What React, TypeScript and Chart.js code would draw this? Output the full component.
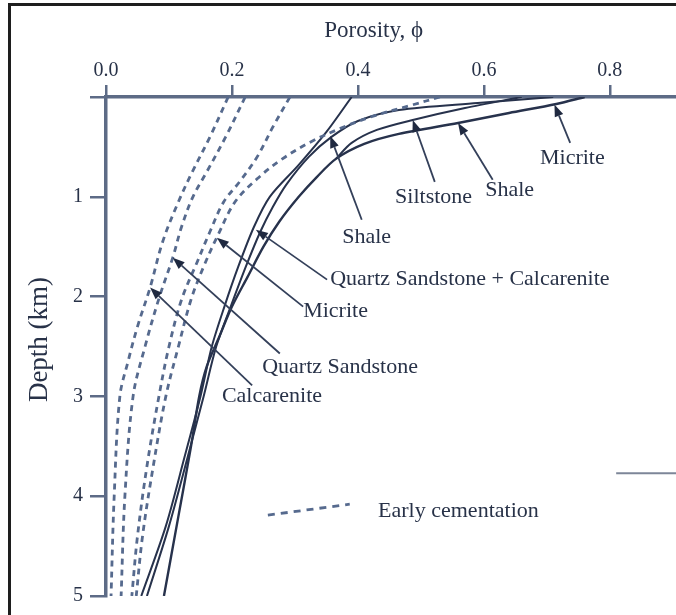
import React, { useEffect, useRef } from "react";
import { Chart, registerables } from "chart.js";
Chart.register(...registerables);

// Axis ticks
const X_TICKS = [0, 0.2, 0.4, 0.6, 0.8];
const Y_TICKS = [0, 1, 2, 3, 4, 5];
const X_MAX = 0.905;
const Y_MAX = 5;
const X_TITLE = "Porosity, \u03d5";
const Y_TITLE = "Depth (km)";
const X_TITLE_CENTER = 0.425;

// Solid compaction curves: [porosity, depth km]
const curveQsCalc = [[0.39, 0], [0.35, 0.35], [0.306, 0.68], [0.26, 1.0], [0.235, 1.3], [0.21, 1.7], [0.188, 2.1], [0.168, 2.5], [0.15, 3.0], [0.125, 3.6], [0.095, 4.3], [0.056, 5]];
const curveShaleLower = [[0.71, 0], [0.59, 0.06], [0.465, 0.13], [0.4, 0.24], [0.358, 0.4], [0.322, 0.6], [0.286, 0.88], [0.265, 1.1], [0.245, 1.35], [0.222, 1.7], [0.198, 2.1], [0.175, 2.5], [0.155, 3.0], [0.13, 3.6], [0.1, 4.3], [0.065, 5]];
const curveSiltstone = [[0.66, 0], [0.57, 0.11], [0.487, 0.23], [0.43, 0.33], [0.39, 0.46], [0.365, 0.62]];
const curveMicrite = [[0.76, 0], [0.715, 0.07], [0.64, 0.16], [0.559, 0.26], [0.465, 0.37], [0.41, 0.47], [0.365, 0.62], [0.335, 0.8], [0.306, 1.0], [0.275, 1.25], [0.25, 1.5], [0.225, 1.8], [0.2, 2.1], [0.18, 2.4], [0.16, 2.7], [0.148, 3.0], [0.135, 3.5], [0.115, 4.2], [0.092, 5]];

// Early cementation (dashed) curves
const ecCalcarenite = [[0.194, 0], [0.165, 0.4], [0.137, 0.75], [0.115, 1.05], [0.09, 1.45], [0.07, 1.91], [0.05, 2.3], [0.035, 2.65], [0.022, 3.0], [0.013, 4.0], [0.008, 5]];
const ecQuartz = [[0.221, 0], [0.19, 0.4], [0.16, 0.75], [0.138, 1.0], [0.12, 1.3], [0.106, 1.61], [0.085, 2.0], [0.062, 2.5], [0.043, 3.0], [0.03, 4.0], [0.024, 5]];
const ecMicrite = [[0.292, 0], [0.265, 0.3], [0.24, 0.6], [0.212, 0.85], [0.187, 1.05], [0.165, 1.35], [0.145, 1.65], [0.12, 2.03], [0.1, 2.5], [0.084, 3.0], [0.065, 3.7], [0.05, 4.4], [0.041, 5]];
const ecShale = [[0.53, 0], [0.486, 0.08], [0.42, 0.2], [0.37, 0.32], [0.325, 0.45], [0.28, 0.62], [0.24, 0.82], [0.205, 1.05], [0.178, 1.38], [0.155, 1.7], [0.135, 2.03], [0.115, 2.5], [0.095, 3.0], [0.075, 3.7], [0.058, 4.4], [0.048, 5]];

// Stray segment at right
const straySegment = [[0.81, 3.77], [0.905, 3.77]];

// Labels: text, left porosity, center depth
const LABEL_TEXT = ["Micrite", "Shale", "Siltstone", "Shale", "Quartz Sandstone + Calcarenite", "Micrite", "Quartz Sandstone", "Calcarenite"];
const LABEL_PHI = [0.689, 0.602, 0.459, 0.375, 0.356, 0.313, 0.248, 0.184];
const LABEL_DEPTH = [0.61, 0.93, 1.0, 1.4, 1.83, 2.15, 2.71, 3.0];
// Arrow tail and tip
const ARROW_FROM_PHI = [0.737, 0.614, 0.522, 0.406, 0.351, 0.313, 0.276, 0.232];
const ARROW_FROM_DEPTH = [0.46, 0.83, 0.85, 1.23, 1.83, 2.1, 2.57, 2.89];
const ARROW_TIP_PHI = [0.712, 0.559, 0.487, 0.356, 0.238, 0.176, 0.106, 0.07];
const ARROW_TIP_DEPTH = [0.075, 0.26, 0.23, 0.39, 1.33, 1.41, 1.61, 1.91];

// Legend
const LEGEND_TEXT = "Early cementation";
const LEGEND_LINE = [[0.257, 4.19], [0.387, 4.08]];
const LEGEND_TEXT_POS = [0.432, 4.15];

const FONT = "'Liberation Serif', 'DejaVu Serif', serif";
const TEXT_COLOR = "#283248";
const AXIS_COLOR = "#5d6b86";
const SOLID_COLOR = "#27324c";
const DASH_COLOR = "#566a8e";

const toPts = (arr: number[][]) => arr.map(([x, y]) => ({ x, y }));

export default function App() {
  const ref = useRef<HTMLCanvasElement | null>(null);
  useEffect(() => {
    if (!ref.current) return;
    const solid = (data: number[][], w = 2) => ({
      data: toPts(data),
      showLine: true,
      borderColor: SOLID_COLOR,
      borderWidth: w,
      pointRadius: 0,
      tension: 0.3,
      fill: false,
    });
    const dashed = (data: number[][]) => ({
      data: toPts(data),
      showLine: true,
      borderColor: DASH_COLOR,
      borderWidth: 2.8,
      borderDash: [6, 5],
      pointRadius: 0,
      tension: 0.35,
      fill: false,
    });
    const annot = {
      id: "annot",
      afterDraw(chart: any) {
        const { ctx, scales } = chart;
        const xs = scales.x;
        const ys = scales.y;
        const px = (v: number) => xs.getPixelForValue(v);
        const py = (v: number) => ys.getPixelForValue(v);
        ctx.save();
        // frame
        ctx.strokeStyle = "#1e1e1e";
        ctx.lineWidth = 3;
        ctx.beginPath();
        ctx.moveTo(9.5, 615);
        ctx.lineTo(9.5, 4.5);
        ctx.lineTo(676, 4.5);
        ctx.stroke();
        // axis titles
        ctx.fillStyle = TEXT_COLOR;
        ctx.textAlign = "center";
        ctx.textBaseline = "middle";
        ctx.font = `23px ${FONT}`;
        ctx.fillText(X_TITLE, px(X_TITLE_CENTER), 31);
        ctx.save();
        ctx.translate(40, (ys.top + ys.bottom) / 2 - 7);
        ctx.rotate(-Math.PI / 2);
        ctx.font = `27px ${FONT}`;
        ctx.fillText(Y_TITLE, 0, 0);
        ctx.restore();
        // arrows
        ctx.strokeStyle = "#34405a";
        ctx.fillStyle = "#1f2940";
        ctx.lineWidth = 1.8;
        for (let i = 0; i < ARROW_TIP_PHI.length; i++) {
          const fx = px(ARROW_FROM_PHI[i]);
          const fy = py(ARROW_FROM_DEPTH[i]);
          const tx = px(ARROW_TIP_PHI[i]);
          const ty = py(ARROW_TIP_DEPTH[i]);
          const ang = Math.atan2(ty - fy, tx - fx);
          const L = 12;
          const W = 4.5;
          const bx = tx - L * Math.cos(ang);
          const by = ty - L * Math.sin(ang);
          ctx.beginPath();
          ctx.moveTo(fx, fy);
          ctx.lineTo(bx, by);
          ctx.stroke();
          ctx.beginPath();
          ctx.moveTo(tx, ty);
          ctx.lineTo(bx + W * Math.sin(ang), by - W * Math.cos(ang));
          ctx.lineTo(bx - W * Math.sin(ang), by + W * Math.cos(ang));
          ctx.closePath();
          ctx.fill();
        }
        // labels
        ctx.fillStyle = TEXT_COLOR;
        ctx.font = `22px ${FONT}`;
        ctx.textAlign = "left";
        ctx.textBaseline = "middle";
        for (let i = 0; i < LABEL_TEXT.length; i++) {
          ctx.fillText(LABEL_TEXT[i], px(LABEL_PHI[i]), py(LABEL_DEPTH[i]));
        }
        // legend
        ctx.strokeStyle = DASH_COLOR;
        ctx.lineWidth = 2.8;
        ctx.setLineDash([7, 6]);
        ctx.beginPath();
        ctx.moveTo(px(LEGEND_LINE[0][0]), py(LEGEND_LINE[0][1]));
        ctx.lineTo(px(LEGEND_LINE[1][0]), py(LEGEND_LINE[1][1]));
        ctx.stroke();
        ctx.setLineDash([]);
        ctx.fillText(LEGEND_TEXT, px(LEGEND_TEXT_POS[0]), py(LEGEND_TEXT_POS[1]));
        ctx.restore();
      },
    };
    const chart = new Chart(ref.current, {
      type: "scatter",
      data: {
        datasets: [
          dashed(ecCalcarenite),
          dashed(ecQuartz),
          dashed(ecMicrite),
          dashed(ecShale),
          solid(curveQsCalc),
          solid(curveShaleLower),
          solid(curveSiltstone),
          solid(curveMicrite, 2.4),
          { ...solid(straySegment, 2), borderColor: "#7d8698", tension: 0 },
        ] as any,
      },
      options: {
        animation: false,
        responsive: false,
        devicePixelRatio: 1,
        layout: { padding: { left: 0, top: 0, right: 0, bottom: 18 } },
        plugins: { legend: { display: false }, tooltip: { enabled: false } },
        scales: {
          x: {
            type: "linear",
            position: "top",
            min: 0,
            max: X_MAX,
            afterBuildTicks: (s: any) => {
              s.ticks = X_TICKS.map((v) => ({ value: v }));
            },
            afterFit: (s: any) => {
              s.height = 97;
            },
            ticks: {
              callback: (v: any) => Number(v).toFixed(1),
              font: { family: FONT, size: 20 },
              color: TEXT_COLOR,
              padding: 2,
              maxRotation: 0,
            },
            grid: { display: true, drawOnChartArea: false, drawTicks: true, tickLength: 12, color: AXIS_COLOR, lineWidth: 2.5 },
            border: { display: true, color: AXIS_COLOR, width: 3.5 },
            title: { display: false },
          },
          y: {
            type: "linear",
            reverse: true,
            min: 0,
            max: Y_MAX,
            afterBuildTicks: (s: any) => {
              s.ticks = Y_TICKS.map((v) => ({ value: v }));
            },
            afterFit: (s: any) => {
              s.width = 106;
            },
            ticks: {
              callback: (v: any) => (v === 0 ? "" : String(v)),
              font: { family: FONT, size: 20 },
              color: TEXT_COLOR,
              padding: 7,
            },
            grid: { display: true, drawOnChartArea: false, drawTicks: true, tickLength: 16, color: AXIS_COLOR, lineWidth: 2.5 },
            border: { display: true, color: AXIS_COLOR, width: 3.5 },
            title: { display: false },
          },
        },
      },
      plugins: [annot],
    } as any);
    return () => chart.destroy();
  }, []);
  return (
    <div style={{ position: "fixed", left: 0, top: 0, width: 676, height: 615, background: "#fff" }}>
      <canvas ref={ref} width={676} height={615} style={{ display: "block", width: 676, height: 615 }} />
    </div>
  );
}
